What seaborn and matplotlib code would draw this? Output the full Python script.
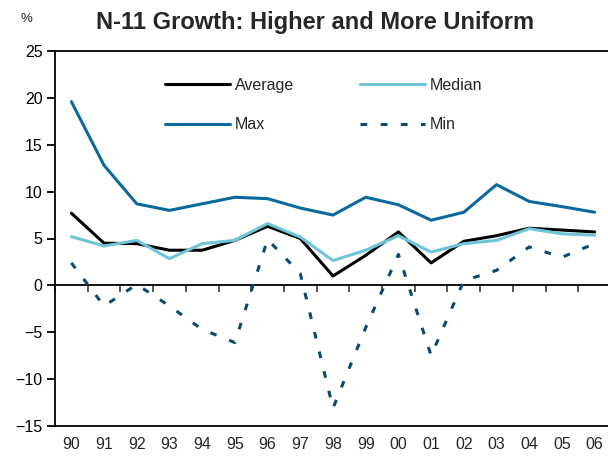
import matplotlib
matplotlib.use("Agg")
import matplotlib.pyplot as plt
import seaborn as sns
import pandas as pd
import numpy as np

years = ["90", "91", "92", "93", "94", "95", "96", "97", "98", "99",
         "00", "01", "02", "03", "04", "05", "06"]
average = [7.7, 4.5, 4.45, 3.75, 3.75, 4.8, 6.3, 5.0, 1.0, 3.2,
           5.7, 2.4, 4.7, 5.3, 6.1, 5.9, 5.7]
median = [5.2, 4.2, 4.8, 2.85, 4.45, 4.8, 6.6, 5.15, 2.65, 3.75,
          5.3, 3.55, 4.45, 4.8, 6.05, 5.5, 5.35]
maximum = [19.6, 12.8, 8.7, 8.0, 8.7, 9.4, 9.25, 8.25, 7.5, 9.4,
           8.6, 6.95, 7.8, 10.75, 8.95, 8.4, 7.8]
minimum = [2.4, -2.2, 0.1, -2.2, -4.7, -6.1, 4.9, 1.25, -13.1, -4.5,
           3.3, -7.5, 0.5, 1.6, 4.1, 3.0, 4.45]

series_names = ["Average", "Median", "Max", "Min"]
series_vals = [average, median, maximum, minimum]
colors = {"Average": "#000000", "Median": "#6EC5D8", "Max": "#0A6A9E", "Min": "#0B4A6B"}

pos = np.arange(len(years))
df = pd.concat([pd.DataFrame({"pos": pos, "value": v, "series": n})
                for n, v in zip(series_names, series_vals)], ignore_index=True)

sns.set_style("white")
plt.rcParams["font.family"] = ["Liberation Sans", "DejaVu Sans"]

fig = plt.figure(figsize=(6.08, 4.62), dpi=100)
ax = fig.add_axes([55 / 608, 1 - 426 / 462, 556 / 608, 375 / 462])

lw = 2.2
for n in series_names:
    sub = df[df["series"] == n]
    kw = {}
    if n == "Min":
        kw["dashes"] = (2.2, 4.4)
    sns.lineplot(data=sub, x="pos", y="value", ax=ax, color=colors[n], lw=lw,
                 label=n, **kw)

ax.set_xlim(-0.5, len(years) - 0.5)
ax.set_ylim(-15, 25)
ax.set_yticks(np.arange(-15, 26, 5))
ax.set_xticks(pos)
ax.set_xticklabels(years)
ax.set_xlabel("")
ax.set_ylabel("")

for s in ["left", "top", "bottom"]:
    ax.spines[s].set_visible(True)
    ax.spines[s].set_color("black")
    ax.spines[s].set_linewidth(1.3)
ax.spines["right"].set_visible(False)

ax.tick_params(axis="y", which="both", left=True, length=6, width=1.3,
               labelsize=11.5, pad=3, colors="black")
ax.tick_params(axis="x", which="both", bottom=False, length=0, labelsize=11.5, pad=8)

# zero axis with ticks between categories
ax.axhline(0, color="black", lw=1.3, zorder=1)
sec = ax.secondary_xaxis(15 / 40)
sec.set_xticks(np.arange(-0.5, len(years), 1.0))
sec.tick_params(axis="x", direction="out", length=5, width=1.1, labelbottom=False,
                labeltop=False, bottom=True, top=False)
sec.spines["bottom"].set_visible(False)
sec.spines["top"].set_visible(False)
sec.xaxis.set_ticks_position("bottom")
sec.set_xticklabels([])

handles, labels = ax.get_legend_handles_labels()
hmap = dict(zip(labels, handles))
order = ["Average", "Max", "Median", "Min"]
leg = ax.legend([hmap[k] for k in order], order, loc="upper left",
                bbox_to_anchor=(0.186, 0.946), ncol=2, frameon=False,
                fontsize=11.5, handlelength=4.1, handletextpad=0.3,
                columnspacing=4.1, labelspacing=1.55, borderaxespad=0)

fig.text(315 / 608, 1 - 28.5 / 462, "N-11 Growth: Higher and More Uniform",
         ha="center", va="baseline", fontsize=17, fontweight="bold")
fig.text(26 / 608, 1 - 19.5 / 462, "%", ha="center", va="center", fontsize=9.5)

fig.savefig("out.png", dpi=100)
